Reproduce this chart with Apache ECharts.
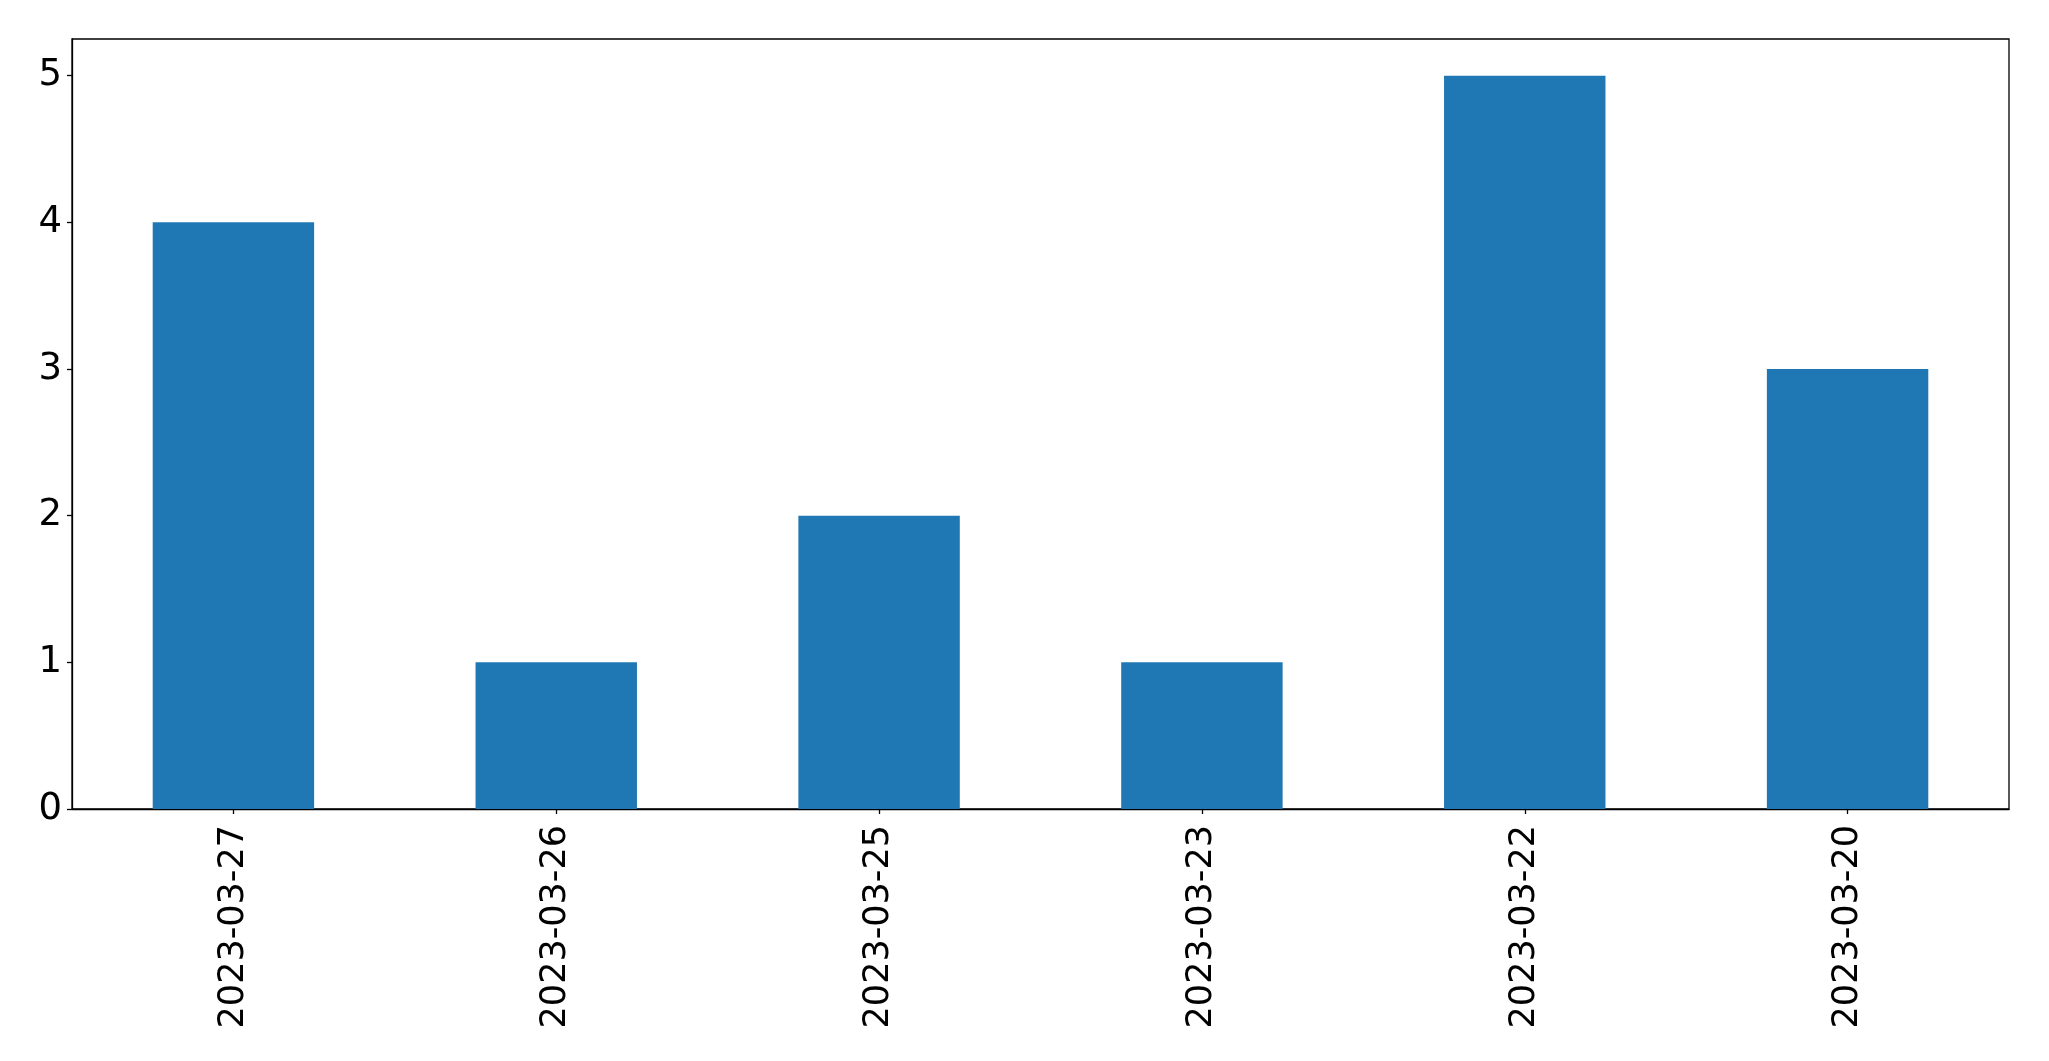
<!DOCTYPE html>
<html>
<head>
<meta charset="utf-8">
<script src="https://cdn.jsdelivr.net/npm/echarts@6/dist/echarts.min.js"></script>
<style>
html,body{margin:0;padding:0;background:#fff;}
#chart{width:2049px;height:1061px;}
</style>
</head>
<body>
<div id="chart"></div>
<script>
var categories = ['2023-03-27', '2023-03-26', '2023-03-25', '2023-03-23', '2023-03-22', '2023-03-20'];
var values = [4, 1, 2, 1, 5, 3];
var yTicks = [0, 1, 2, 3, 4, 5];

var chart = echarts.init(document.getElementById('chart'), null, {renderer: 'canvas'});
var font = 'DejaVu Sans';
chart.setOption({
  animation: false,
  backgroundColor: '#ffffff',
  grid: {
    left: 72, right: 40, top: 39, bottom: 252,
    show: true, borderColor: '#000', borderWidth: 1.3, backgroundColor: 'transparent',
    containLabel: false
  },
  xAxis: {
    type: 'category',
    data: categories,
    boundaryGap: true,
    axisLine: {show: true, lineStyle: {color: '#000', width: 1.3}},
    axisTick: {show: true, alignWithLabel: true, length: 5, lineStyle: {color: '#000', width: 1.3}},
    axisLabel: {rotate: 90, margin: 16, fontSize: 35, fontFamily: font, color: '#000', interval: 0},
    splitLine: {show: false}
  },
  yAxis: {
    type: 'value',
    min: 0, max: 5.25, interval: 1,
    axisLine: {show: true, lineStyle: {color: '#000', width: 1.3}},
    axisTick: {show: true, length: 5, lineStyle: {color: '#000', width: 1.3}, customValues: yTicks},
    axisLabel: {margin: 10, fontSize: 37, fontFamily: font, color: '#000', customValues: yTicks, padding: [6, 0, 0, 0]},
    splitLine: {show: false}
  },
  series: [{
    type: 'bar',
    data: values,
    barWidth: '50%',
    itemStyle: {color: '#1f77b4'}
  }]
});
</script>
</body>
</html>
